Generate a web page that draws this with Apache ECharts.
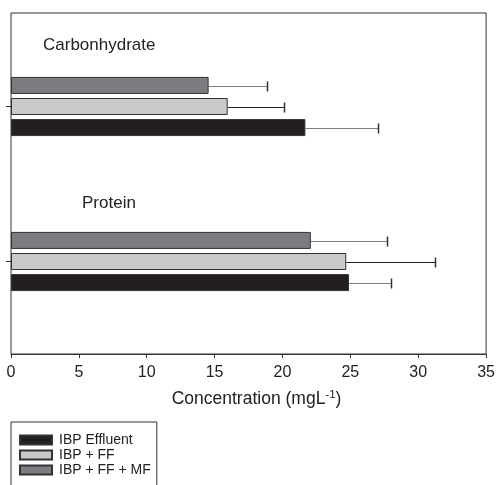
<!DOCTYPE html>
<html>
<head>
<meta charset="UTF-8">
<title>concentration</title>
<script src="https://cdn.jsdelivr.net/npm/echarts@6/dist/echarts.min.js"></script>
<style>
	html, body { margin: 0; padding: 0; background: #fff; }
	#chart { width: 498px; height: 485px; }
</style>
</head>
<body>
<div id="chart"></div>
<script>
// data, bottom category first
var categories = ['Protein', 'Carbonhydrate'];
var seriesNames = ['IBP Effluent', 'IBP + FF', 'IBP + FF + MF'];
var effluent = [24.8, 21.6];
var ff = [24.6, 15.9];
var ffmf = [22.0, 14.5];
// upper end of the error bars
var effluentErr = [27.9, 26.9];
var ffErr = [31.1, 20.0];
var ffmfErr = [27.6, 18.8];
var xMin = 0, xMax = 35, xStep = 5;

var font = 'Liberation Sans, Arial, Helvetica, sans-serif';
var colors = ['#231f20', '#c8c9ca', '#7b7c7f'];
var errColors = ['#808080', '#222222', '#808080'];
var barW = 17, barStep = 21;

var values = [effluent, ff, ffmf];
var errs = [effluentErr, ffErr, ffmfErr];

var errData = [];
for (var s = 0; s < values.length; s++) {
	for (var c = 0; c < categories.length; c++) {
		errData.push([values[s][c], c, errs[s][c], s]);
	}
}

// echarts puts the first bar series on top, so add them in reverse
var bars = [];
for (var i = seriesNames.length - 1; i >= 0; i--) {
	bars.push({
		name: seriesNames[i],
		type: 'bar',
		xAxisIndex: 1,
		yAxisIndex: 1,
		data: values[i],
		barWidth: barW,
		barGap: '24%',
		itemStyle: { color: colors[i], borderColor: '#333', borderWidth: 1 },
		silent: true
	});
}

var chart = echarts.init(document.getElementById('chart'));
chart.setOption({
	animation: false,
	textStyle: { fontFamily: font },
	grid: [
		{ left: 11, right: 10, top: 13, bottom: 131, show: true, borderColor: '#333', borderWidth: 1 },
		{ left: 11, right: 10, top: 29, bottom: 146 }
	],
	legend: {
		data: seriesNames,
		orient: 'vertical',
		left: 11,
		top: 422,
		height: 60,
		padding: [11, 6, 40, 8],
		icon: 'rect',
		itemWidth: 32,
		itemHeight: 9,
		itemGap: 1,
		borderColor: '#333',
		borderWidth: 1,
		borderRadius: 0,
		textStyle: { fontSize: 14, color: '#222', fontFamily: font, padding: [0, 0, 0, 2] },
		selectedMode: false
	},
	xAxis: [
		{
			gridIndex: 0, type: 'value', min: xMin, max: xMax, interval: xStep,
			axisLine: { show: true, lineStyle: { color: '#333' } },
			axisTick: { show: true, length: 4, lineStyle: { color: '#333' } },
			axisLabel: { fontSize: 16, color: '#222', margin: 11 },
			splitLine: { show: false },
			name: '{n|Concentration (mgL}{s|-1}{n|)}',
			nameLocation: 'middle',
			nameGap: 35,
			nameTextStyle: {
				padding: [0, 0, 0, 16],
				rich: {
					n: { fontSize: 17.5, color: '#222', fontFamily: font },
					s: { fontSize: 11.5, color: '#222', fontFamily: font, verticalAlign: 'top', padding: [0, 0, 8, 0] }
				}
			}
		},
		{
			gridIndex: 1, type: 'value', min: xMin, max: xMax, show: false
		}
	],
	yAxis: [
		{ gridIndex: 0, type: 'value', show: false },
		{
			gridIndex: 1, type: 'category', data: categories,
			axisLine: { show: false },
			axisTick: { show: true, alignWithLabel: true, length: 5, lineStyle: { color: '#333' } },
			axisLabel: { show: false }
		}
	],
	graphic: [
		{ type: 'text', left: 43, top: 37, style: { text: categories[1], fontSize: 17, fill: '#222', fontFamily: font } },
		{ type: 'text', left: 82, top: 195, style: { text: categories[0], fontSize: 17, fill: '#222', fontFamily: font } }
	],
	series: bars.concat([{
		type: 'custom',
		xAxisIndex: 1,
		yAxisIndex: 1,
		silent: true,
		data: errData,
		encode: { x: [0, 2], y: 1 },
		z: 1,
		renderItem: function (params, api) {
			var s = api.value(3);
			var p0 = api.coord([api.value(0), api.value(1)]);
			var p1 = api.coord([api.value(2), api.value(1)]);
			var y = Math.round(p0[1] + (1 - s) * barStep) + 0.5;
			var x1 = Math.round(p1[0]) + 0.5;
			var st = { stroke: errColors[s], lineWidth: 1.2 };
			return {
				type: 'group',
				children: [
					{ type: 'line', shape: { x1: p0[0], y1: y, x2: x1, y2: y }, style: st },
					{ type: 'line', shape: { x1: x1, y1: y - 5, x2: x1, y2: y + 5 }, style: { stroke: '#333', lineWidth: 1.5 } }
				]
			};
		}
	}])
});
</script>
</body>
</html>
